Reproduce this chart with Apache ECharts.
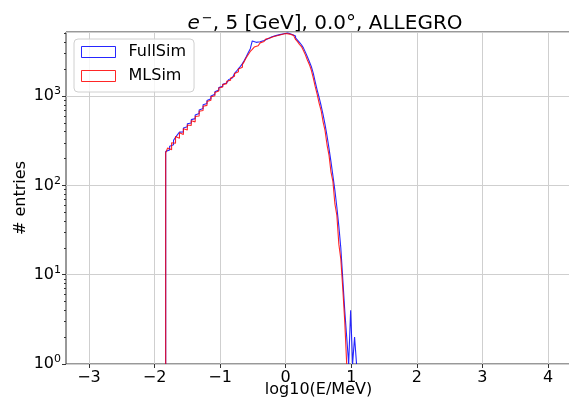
<!DOCTYPE html>
<html><head><meta charset="utf-8">
<script src="https://cdn.jsdelivr.net/npm/echarts@6/dist/echarts.min.js"></script>
<style>html,body{margin:0;padding:0;background:#fff}#c{width:569px;height:405px}</style>
</head><body><div id="c"></div>
<script>
// Histogram binning (log10(E/MeV))
const binStart = -1.83;
const binWidth = 0.03;

// FullSim counts per bin
const fullSim = [
  240, 250, 275, 285, 320, 345, 370, 395, 398, 440,
  455, 490, 500, 545, 560, 615, 640, 700, 725, 800,
  825, 895, 935, 1005, 1050, 1120, 1170, 1245, 1290, 1360,
  1405, 1470, 1530, 1610, 1690, 1800, 1900, 2030, 2150, 2310,
  2520, 2780, 3080, 3400, 4150, 4000, 4020, 4060, 4110, 4200,
  4290, 4400, 4530, 4630, 4700, 4760, 4820, 4880, 4940, 5000,
  5060, 5080, 5020, 4940, 4870, 4720, 4480, 4230, 3990, 3760,
  3470, 3110, 2760, 2440, 2150, 1810, 1440, 1170, 960, 780,
  620, 480, 360, 260, 185, 128, 88, 57, 35, 20,
  9, 4, 2, 0, 4, 0, 2, 0
];

// MLSim counts per bin
const mlSim = [
  232, 262, 251, 300, 296, 352, 338, 390, 372, 430,
  418, 475, 468, 530, 515, 590, 600, 676, 690, 770,
  788, 870, 898, 985, 1010, 1095, 1140, 1230, 1268, 1345,
  1380, 1465, 1505, 1598, 1672, 1795, 1880, 2015, 2110, 2270,
  2450, 2705, 2925, 3160, 3340, 3545, 3660, 3830, 3945, 4095,
  4205, 4368, 4485, 4615, 4655, 4745, 4775, 4865, 4905, 4990,
  5030, 5055, 4950, 4895, 4790, 4615, 4310, 4075, 3795, 3590,
  3245, 2895, 2540, 2265, 1960, 1600, 1275, 1045, 830, 690,
  515, 410, 285, 218, 142, 110, 62, 46, 22, 15,
  7, 3, 0, 0, 0, 0, 0, 0
];

const xTicks = [-3, -2, -1, 0, 1, 2, 3, 4];
const yTicks = [1, 10, 100, 1000];
const yMinorTicks = [2,3,4,5,6,7,8,9, 20,30,40,50,60,70,80,90, 200,300,400,500,600,700,800,900, 2000,3000,4000,5000];
const xMin = -3.35, xMax = 4.35, yMin = 1, yMax = 5224;

function stepPoints(vals) {
  let last = vals.length - 1;
  while (last > 0 && vals[last] === 0) last--;
  const pts = [[binStart, yMin]];
  for (let i = 0; i <= last; i++) {
    const x0 = +(binStart + i * binWidth).toFixed(4);
    const x1 = +(binStart + (i + 1) * binWidth).toFixed(4);
    const v = Math.max(vals[i], yMin);
    pts.push([x0, v], [x1, v]);
  }
  pts.push([+(binStart + (last + 1) * binWidth).toFixed(4), yMin]);
  return pts;
}

const FONT = 'DejaVu Sans';
const BLUE = 'rgba(0,0,255,0.85)';
const RED = 'rgba(255,0,0,0.85)';
const chart = echarts.init(document.getElementById('c'), null, {renderer: 'canvas'});
chart.setOption({
  animation: false,
  backgroundColor: '#fff',
  title: {
    text: '{i|e}{s|−}{n|, 5 [GeV], 0.0°, ALLEGRO}',
    left: 320, top: 7, textAlign: 'center',
    textStyle: {
      fontWeight: 'normal',
      rich: {
        i: {fontFamily: FONT, fontSize: 20, fontStyle: 'italic', fontWeight: 'normal', color: '#000', lineHeight: 24},
        s: {fontFamily: FONT, fontSize: 13, fontWeight: 'normal', color: '#000', verticalAlign: 'top', lineHeight: 14, padding: [0, 0, 0, 2]},
        n: {fontFamily: FONT, fontSize: 20, fontWeight: 'normal', color: '#000', lineHeight: 24}
      }
    }
  },
  legend: {
    left: 74, top: 39, orient: 'vertical',
    padding: [4, 8, 7, 7],
    itemWidth: 34, itemHeight: 11, itemGap: 6,
    icon: 'rect',
    backgroundColor: 'rgba(255,255,255,0.8)',
    borderColor: '#d0d0d0', borderWidth: 1, borderRadius: 4,
    textStyle: {fontFamily: FONT, fontSize: 16, color: '#000', lineHeight: 18, padding: [0, 0, 0, 8]},
    data: [
      {name: 'FullSim', itemStyle: {color: 'rgba(255,255,255,0)', borderColor: BLUE, borderWidth: 1}},
      {name: 'MLSim', itemStyle: {color: 'rgba(255,255,255,0)', borderColor: RED, borderWidth: 1}}
    ]
  },
  grid: {
    left: 66, top: 32, right: -2, bottom: 41,
    show: true, borderColor: '#333', borderWidth: 1,
    containLabel: false, outerBoundsMode: 'none'
  },
  xAxis: {
    type: 'value', min: xMin, max: xMax,
    name: 'log10(E/MeV)', nameLocation: 'middle', nameGap: 18, nameMoveOverlap: false,
    nameTextStyle: {fontFamily: FONT, fontSize: 16, color: '#000'},
    axisLine: {show: false, onZero: false},
    axisTick: {show: true, customValues: xTicks, length: 4, lineStyle: {color: '#333'}},
    axisLabel: {customValues: xTicks, margin: 6, fontFamily: FONT, fontSize: 16, color: '#000',
      formatter: v => (v < 0 ? '−' + (-v) : '' + v)},
    splitLine: {show: true, lineStyle: {color: '#cfcfcf', width: 1}}
  },
  yAxis: [{
    type: 'log', logBase: 10, min: yMin, max: yMax,
    name: '# entries', nameLocation: 'middle', nameGap: 37, nameMoveOverlap: false,
    nameTextStyle: {fontFamily: FONT, fontSize: 16, color: '#000'},
    axisLine: {show: false, onZero: false},
    axisTick: {show: true, length: 4, lineStyle: {color: '#333'}},
    axisLabel: {
      margin: 5, showMaxLabel: false,
      formatter: v => {
        const e = Math.round(Math.log10(v));
        if (Math.abs(Math.log10(v) - e) > 1e-6 || yTicks.indexOf(Math.pow(10, e)) < 0) return '';
        return '{b|10}{s|' + e + '}';
      },
      rich: {
        b: {fontFamily: FONT, fontSize: 16, color: '#000', lineHeight: 20},
        s: {fontFamily: FONT, fontSize: 11, color: '#000', verticalAlign: 'top', lineHeight: 12}
      }
    },
    splitLine: {show: true, lineStyle: {color: '#cfcfcf', width: 1}}
  }, {
    type: 'value', min: 0, max: Math.log10(yMax), position: 'left',
    axisLine: {show: false, onZero: false}, axisLabel: {show: false}, splitLine: {show: false},
    axisTick: {show: true, customValues: yMinorTicks.map(v => Math.log10(v)), length: 2, lineStyle: {color: '#333'}}
  }],
  series: [
    {name: 'FullSim', type: 'line', yAxisIndex: 0, showSymbol: false, symbol: 'none',
      data: stepPoints(fullSim), lineStyle: {color: BLUE, width: 1.1}, itemStyle: {color: BLUE}, z: 3},
    {name: 'MLSim', type: 'line', yAxisIndex: 0, showSymbol: false, symbol: 'none',
      data: stepPoints(mlSim), lineStyle: {color: RED, width: 1.1}, itemStyle: {color: RED}, z: 4}
  ]
});
</script>
</body></html>
